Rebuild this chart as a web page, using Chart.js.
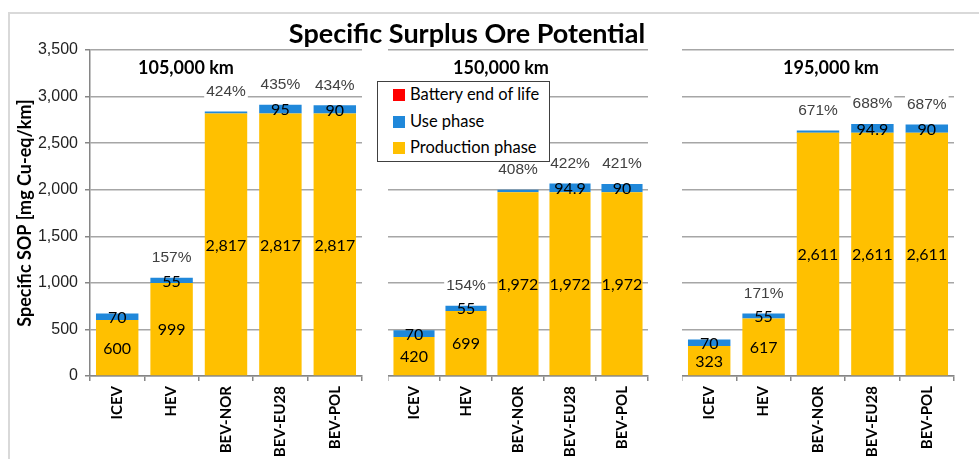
<!DOCTYPE html>
<html>
<head>
<meta charset="utf-8">
<script src="https://cdn.jsdelivr.net/npm/chart.js@4.4.1/dist/chart.umd.min.js"></script>
<style>
  body { margin: 0; width: 979px; height: 459px; position: relative; overflow: hidden; background: #fff; }
  .frame { position: absolute; left: 8px; top: 12px; width: 990px; height: 470px; border: 2px solid #d9d9d9; }
  .panel { position: absolute; top: 0; }
  .title { position: absolute; left: 467px; top: 17px; transform: translateX(-50%); font: bold 27px Lato, sans-serif; white-space: nowrap; background: #fff; padding: 0 3px; line-height: 32px; }
  .group { position: absolute; top: 56px; font: bold 18px Lato, sans-serif; white-space: nowrap; line-height: 22px; }
  .legend { position: absolute; left: 377px; top: 81px; width: 171px; height: 79px; border: 1.5px solid #404040; background: #fff; font: 16.5px Lato, sans-serif; }
  .legend div { position: absolute; left: 15px; white-space: nowrap; line-height: 20px; }
  .legend span { display: inline-block; width: 12px; height: 12px; margin-right: 5px; vertical-align: -1px; }
</style>
</head>
<body>
<div class="frame"></div>
<div class="panel" style="left:0"><canvas id="c1" width="365" height="459"></canvas></div>
<div class="panel" style="left:388px"><canvas id="c2" width="263" height="459"></canvas></div>
<div class="panel" style="left:682px"><canvas id="c3" width="275" height="459"></canvas></div>
<div class="title">Specific Surplus Ore Potential</div>
<div class="group" style="left:138px">105,000 km</div>
<div class="group" style="left:453px">150,000 km</div>
<div class="group" style="left:783px">195,000 km</div>
<div class="legend">
  <div style="top:2px"><span style="background:#ff0000"></span>Battery end of life</div>
  <div style="top:29px"><span style="background:#2088da"></span>Use phase</div>
  <div style="top:55px"><span style="background:#ffc000"></span>Production phase</div>
</div>
<script>
const categories = ['ICEV', 'HEV', 'BEV-NOR', 'BEV-EU28', 'BEV-POL'];
const seriesNames = ['Production phase', 'Use phase', 'Battery end of life'];
const yTicks = [0, 3500, 500];

const production105 = [600, 999, 2817, 2817, 2817];
const use105 = [70, 55, 24, 95, 90];
const battery105 = [0, 0, 0, 0, 0];
const percent105 = ['', '157%', '424%', '435%', '434%'];

const production150 = [420, 699, 1972, 1972, 1972];
const use150 = [70, 55, 27, 94.9, 90];
const battery150 = [0, 0, 0, 0, 0];
const percent150 = ['', '154%', '408%', '422%', '421%'];

const production195 = [323, 617, 2611, 2611, 2611];
const use195 = [70, 55, 26, 94.9, 90];
const battery195 = [0, 0, 0, 0, 0];
const percent195 = ['', '171%', '671%', '688%', '687%'];

const colors = ['#ffc000', '#2088da', '#ff0000'];
const gridColor = '#a6a6a6';
const axisColor = '#868686';

// labels inside the segments and the % over each stack
const barLabels = {
  id: 'barLabels',
  afterDatasetsDraw (chart, args, opts) {
    const ctx = chart.ctx;
    const prod = chart.getDatasetMeta(0);
    const use = chart.getDatasetMeta(1);
    const ds = chart.data.datasets;
    ctx.save();
    ctx.textAlign = 'center';
    ctx.textBaseline = 'middle';
    prod.data.forEach((bar, i) => {
      ctx.font = '16px Lato, sans-serif';
      ctx.fillStyle = '#000';
      ctx.fillText(ds[0].data[i].toLocaleString('en-US'), bar.x, (bar.y + bar.base) / 2 + 1);
      const u = ds[1].data[i];
      const ub = use.data[i];
      if (u >= 40) ctx.fillText(u.toLocaleString('en-US'), ub.x, (ub.y + ub.base) / 2 + 1);
      const p = opts.percents[i];
      if (p) {
        const total = ds.reduce((s, d) => s + d.data[i], 0);
        const top = chart.scales.y.getPixelForValue(total) - 20;
        ctx.font = '15.5px "Liberation Sans", Arial, sans-serif';
        const w = ctx.measureText(p).width;
        ctx.fillStyle = '#fff';
        ctx.fillRect(bar.x - w / 2 - 2, top - 9, w + 4, 18);
        ctx.fillStyle = '#404040';
        ctx.fillText(p, bar.x, top);
      }
    });
    ctx.restore();
  }
};

function build (id, production, use, battery, percents, withAxis, barPct) {
  const data = [production, use, battery];
  return new Chart(document.getElementById(id), {
    type: 'bar',
    data: {
      labels: categories,
      datasets: data.map((d, k) => ({
        label: seriesNames[k],
        data: d,
        backgroundColor: colors[k],
        borderWidth: 0
      }))
    },
    options: {
      responsive: false,
      animation: false,
      locale: 'en-US',
      barPercentage: barPct,
      categoryPercentage: 1,
      layout: { padding: { top: 50, left: 0, right: 3, bottom: 0 } },
      plugins: {
        legend: { display: false },
        tooltip: { enabled: false },
        barLabels: { percents: percents }
      },
      scales: {
        x: {
          stacked: true,
          afterFit: (s) => { s.height = 83 },
          border: { display: true, color: axisColor, width: 1.5 },
          grid: { offset: true, drawOnChartArea: false, drawTicks: true, tickLength: 5, color: axisColor, lineWidth: 1.5 },
          ticks: {
            minRotation: 90,
            maxRotation: 90,
            padding: 5,
            color: '#000',
            font: { family: 'Lato', size: 15, weight: 'bold' }
          }
        },
        y: {
          stacked: true,
          min: yTicks[0],
          max: yTicks[1],
          afterFit: (s) => { s.width = withAxis ? 90 : 0 },
          border: { display: withAxis, color: axisColor, width: 1.5 },
          grid: { color: gridColor, lineWidth: 1.5, drawTicks: withAxis, tickLength: 5, tickColor: axisColor },
          ticks: {
            display: withAxis,
            stepSize: yTicks[2],
            padding: 7,
            color: '#222',
            font: { family: 'Liberation Sans', size: 16 }
          },
          title: {
            display: withAxis,
            text: 'Specific SOP [mg Cu-eq/km]',
            color: '#000',
            padding: { top: 14, bottom: 0 },
            font: { family: 'Lato', size: 18, weight: 'bold' }
          }
        }
      }
    },
    plugins: [barLabels]
  });
}

build('c1', production105, use105, battery105, percent105, true, 0.78);
build('c2', production150, use150, battery150, percent150, false, 0.79);
build('c3', production195, use195, battery195, percent195, false, 0.78);
</script>
</body>
</html>
